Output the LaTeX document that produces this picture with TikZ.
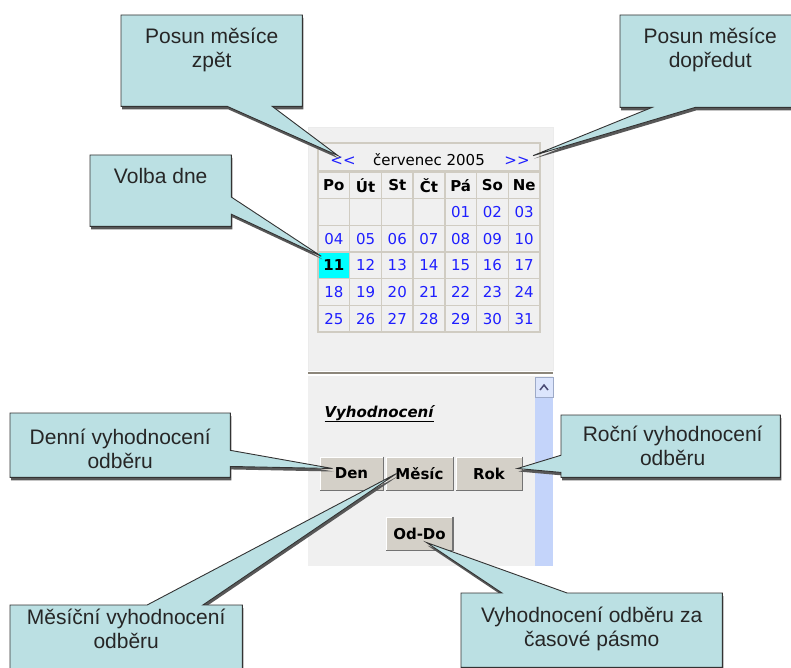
\documentclass[tikz,border=0pt]{standalone}
\usepackage{fontspec}
\setmainfont{Liberation Sans}
\newfontfamily\calfont{DejaVu Sans}
\usetikzlibrary{positioning,calc}

\definecolor{balloonfill}{RGB}{187,224,227}
\definecolor{balloonshade}{RGB}{88,88,88}
\definecolor{panelgray}{RGB}{240,240,240}
\definecolor{gridline}{RGB}{208,204,194}
\definecolor{daylink}{RGB}{30,30,255}
\definecolor{todaycyan}{RGB}{0,255,255}
\definecolor{btnface}{RGB}{212,208,200}
\definecolor{scrollblue}{RGB}{196,212,250}
\definecolor{sepline}{RGB}{140,134,122}

\newcommand{\drawballoon}[1]{%
  \fill[balloonshadow] #1;
  \path[balloon] #1;}

\begin{document}
\begin{tikzpicture}[x=1pt,y=-1pt,
  balloon/.style={fill=balloonfill, draw=black!80, line width=0.9pt},
  balloonshadow/.style={fill=balloonshade, transform canvas={shift={(1,3)}}},
  callbox/.style 2 args={minimum width=#1, minimum height=#2, inner sep=0pt, anchor=north west},
  notetext/.style={font=\fontsize{21}{24}\selectfont, align=center, text=black!85},
  calfont/.style={font=\calfont\fontsize{15}{17}\selectfont},
  cell/.style={draw=gridline, line width=1.5pt, fill=panelgray, minimum width=31.7pt,
    minimum height=26.7pt, inner sep=0pt, calfont},
  today/.style={fill=todaycyan, text=black, font=\calfont\bfseries\fontsize{15}{17}\selectfont},
  btn/.style={fill=btnface, draw=white, line width=1pt, inner sep=0pt, minimum height=33pt,
    font=\calfont\bfseries\fontsize{15}{17}\selectfont},
  btnedge/.style={draw=black!55, line width=1.5pt},
]
\useasboundingbox (0,0) rectangle (791,668);
\clip (0,0) rectangle (791,668);
\fill[white] (0,0) rectangle (791,668);

% Calendar panel
\filldraw[fill=panelgray, draw=black!8] (308,127) rectangle (553,370);
\draw[sepline, line width=2pt] (308,373) -- (553,373);
\fill[panelgray] (308,376) rectangle (553,566);

% Month header
\node[cell, minimum width=222pt, minimum height=28pt] (hdr) at (429,157) {};
\node[calfont, anchor=base, text=daylink] (prev) at (343,166) {{<}{<}};
\node[calfont, anchor=base] (month) at (429,166) {červenec 2005};
\node[calfont, anchor=base, text=daylink] (next) at (517,166) {{>}{>}};

% Day names
\foreach \c/\name in {1/Po,2/Út,3/St,4/Čt,5/Pá,6/So,7/Ne}
  \node[cell, font=\calfont\bfseries\fontsize{15}{17}\selectfont] (h\c) at ({318+31.71*(\c-0.5)},185.3) {\name};

% Days of the month
\foreach \r in {1,...,5}
  \foreach \c in {1,...,7} {
    \pgfmathtruncatemacro{\dd}{7*(\r-1)+\c-4}
    \pgfmathsetmacro{\cx}{318+31.71*(\c-0.5)}
    \pgfmathsetmacro{\cy}{172+26.67*(\r+0.5)}
    \ifnum\dd<1
      \node[cell] (e\c) at (\cx,\cy) {};
    \else\ifnum\dd=11
      \node[cell, today] (d\dd) at (\cx,\cy) {\dd};
    \else
      \node[cell, text=daylink] (d\dd) at (\cx,\cy) {\ifnum\dd<10 0\fi\dd};
    \fi\fi
  }

% Scrollbar
\fill[scrollblue] (535,377) rectangle (553,566);
\filldraw[fill=scrollblue!60, draw=scrollblue!80!black] (535,377) rectangle (553,397);
\draw[black!60!blue!40!gray, line width=1.5pt] (540,390) -- (544,385) -- (548,390);

% Evaluation buttons
\node[anchor=base west, font=\calfont\bfseries\itshape\fontsize{15}{17}\selectfont] (vyh) at (321,417) {\underline{Vyhodnocení}};
\node[btn, minimum width=63pt] (den) at (351.5,473.5) {Den};
\node[btn, minimum width=67pt, right=2pt of den] (mesic) {Měsíc};
\node[btn, minimum width=66pt, right=2pt of mesic] (rok) {Rok};
\node[btn, minimum width=66pt, below=26pt of mesic] (oddo) {Od-Do};
\foreach \b in {den,mesic,rok,oddo}
  \draw[btnedge] (\b.north east) -- (\b.south east) -- (\b.south west);

% Callout frames
\node[callbox={181pt}{91pt}] (zpet) at (121,15) {};
\node[callbox={180pt}{92pt}] (dopredu) at (620,15) {};
\node[callbox={141pt}{71pt}] (volba) at (90,155) {};
\node[callbox={220pt}{64pt}] (denni) at (10,413) {};
\node[callbox={219pt}{62pt}] (rocni) at (561,415) {};
\node[callbox={232pt}{80pt}] (mesicni) at (10,605) {};
\node[callbox={261pt}{74pt}] (pasmo) at (461,593) {};

% Callout outlines with pointers
\drawballoon{(zpet.north west) -- (zpet.north east) -- (zpet.south east)
  -- ($(zpet.south west)!0.834!(zpet.south east)$) -- ($(prev.center)+(-5,-6)$)
  -- ($(zpet.south west)!0.586!(zpet.south east)$) -- (zpet.south west) -- cycle}
\drawballoon{(dopredu.north west) -- (dopredu.north east) -- (dopredu.south east)
  -- ($(dopredu.south west)!0.417!(dopredu.south east)$) -- ($(next.east)+(0,-6)$)
  -- ($(dopredu.south west)!0.178!(dopredu.south east)$) -- (dopredu.south west) -- cycle}
\drawballoon{(volba.north west) -- (volba.north east)
  -- ($(volba.north east)!0.59!(volba.south east)$) -- ($(d11.north west)+(4,5)$)
  -- ($(volba.north east)!0.83!(volba.south east)$) -- (volba.south east) -- (volba.south west) -- cycle}
\drawballoon{(denni.north west) -- (denni.north east)
  -- ($(denni.north east)!0.58!(denni.south east)$) -- ($(den.west)+(13,-5)$)
  -- ($(denni.north east)!0.83!(denni.south east)$) -- (denni.south east) -- (denni.south west) -- cycle}
\drawballoon{(rocni.north west) -- (rocni.north east) -- (rocni.south east) -- (rocni.south west)
  -- ($(rocni.north west)!0.92!(rocni.south west)$) -- ($(rok.east)+(-5,-5)$)
  -- ($(rocni.north west)!0.645!(rocni.south west)$) -- cycle}
\drawballoon{(mesicni.north west) -- ($(mesicni.north west)!0.59!(mesicni.north east)$)
  -- ($(mesic.west)+(11,0)$) -- ($(mesicni.north west)!0.83!(mesicni.north east)$)
  -- (mesicni.north east) -- (mesicni.south east) -- (mesicni.south west) -- cycle}
\drawballoon{(pasmo.north west) -- ($(pasmo.north west)!0.157!(pasmo.north east)$)
  -- ($(oddo.center)+(7,9)$) -- ($(pasmo.north west)!0.406!(pasmo.north east)$)
  -- (pasmo.north east) -- (pasmo.south east) -- (pasmo.south west) -- cycle}

% Callout texts
\node[notetext] (zpet-t) at ($(zpet.north)+(0,35)$) {Posun měsíce\\zpět};
\node[notetext] (dopredu-t) at ($(dopredu.north)+(0,35)$) {Posun měsíce\\dopředut};
\node[notetext] (volba-t) at ($(volba.north)+(0,20.5)$) {Volba dne};
\node[notetext] (denni-t) at ($(denni.north)+(0,36)$) {Denní vyhodnocení\\odběru};
\node[notetext] (rocni-t) at ($(rocni.north)+(2,31)$) {Roční vyhodnocení\\odběru};
\node[notetext] (mesicni-t) at ($(mesicni.north)+(0,24)$) {Měsíční vyhodnocení\\odběru};
\node[notetext] (pasmo-t) at ($(pasmo.north)+(0,36)$) {Vyhodnocení odběru za\\časové pásmo};
\end{tikzpicture}
\end{document}
